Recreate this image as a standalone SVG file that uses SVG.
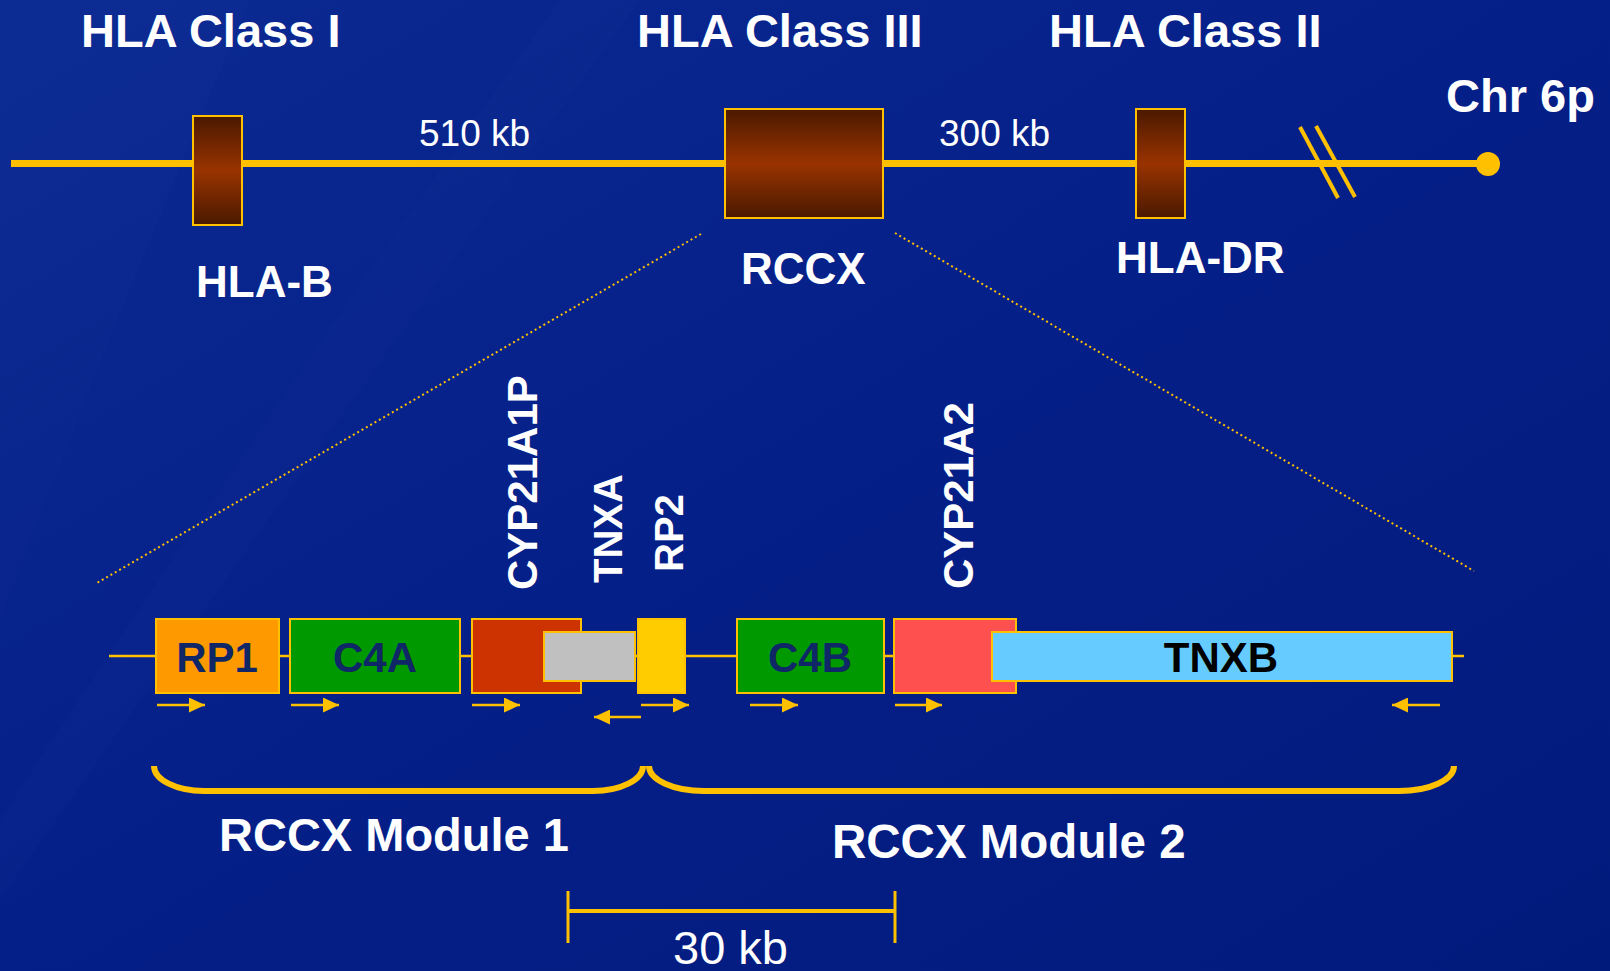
<svg xmlns="http://www.w3.org/2000/svg" width="1610" height="971" viewBox="0 0 1610 971">
<defs>
<linearGradient id="bg" x1="0" y1="0" x2="1" y2="1">
<stop offset="0" stop-color="#0b2a92"/>
<stop offset="0.5" stop-color="#051f88"/>
<stop offset="1" stop-color="#001a7c"/>
</linearGradient>
<linearGradient id="brown" x1="0" y1="0" x2="0" y2="1">
<stop offset="0" stop-color="#4a1900"/>
<stop offset="0.5" stop-color="#993300"/>
<stop offset="1" stop-color="#4a1900"/>
</linearGradient>
<marker id="ah" markerUnits="userSpaceOnUse" markerWidth="16" markerHeight="15" refX="16" refY="7.5" orient="auto"><path d="M0,0 L16,7.5 L0,15 Z" fill="#ffc000"/></marker>
<style>
.t{font-family:"Liberation Sans",Arial,sans-serif;font-weight:bold;fill:#ffffff}
.r{font-family:"Liberation Sans",Arial,sans-serif;fill:#ffffff}
.g{font-family:"Liberation Sans",Arial,sans-serif;font-weight:bold;fill:#0f2766;text-anchor:middle;font-size:42px}
.box{stroke:#ffc000;stroke-width:2}
.hb{fill:url(#brown);stroke:#ffc000;stroke-width:2}
.gold{stroke:#ffc000;fill:none}
.arr{stroke:#ffc000;stroke-width:2.5;marker-end:url(#ah)}
.dot{stroke:#ffc000;stroke-width:2;stroke-dasharray:2 3;fill:none}
</style>
</defs>
<rect width="1610" height="971" fill="url(#bg)"/>
<path d="M0,0 L250,0 Q110,330 0,620 Z" fill="#ffffff" opacity="0.012"/>
<path d="M0,820 Q260,420 560,0 L640,0 Q330,430 0,900 Z" fill="#ffffff" opacity="0.012"/>

<g id="titles">
<text class="t" x="81" y="47" font-size="47">HLA Class I</text>
<text class="t" x="637" y="47" font-size="47">HLA Class III</text>
<text class="t" x="1049" y="47" font-size="47">HLA Class II</text>
<text class="t" x="1446" y="112" font-size="47">Chr 6p</text>
</g>

<g id="connectors">
<line class="gold" x1="11" y1="163.5" x2="1488" y2="163.5" stroke-width="7"/>
<circle cx="1488" cy="164" r="12" fill="#ffc000"/>
<line class="gold" x1="1300" y1="127" x2="1338" y2="198" stroke-width="4"/>
<line class="gold" x1="1316" y1="126" x2="1355" y2="197" stroke-width="4"/>
<line class="dot" x1="701" y1="234" x2="97" y2="583"/>
<line class="dot" x1="895" y1="233" x2="1474" y2="571"/>
<line class="gold" x1="109" y1="656" x2="1464" y2="656" stroke-width="2.5"/>
<line class="arr" x1="157" y1="705" x2="205" y2="705"/>
<line class="arr" x1="291" y1="705" x2="339" y2="705"/>
<line class="arr" x1="472" y1="705" x2="520" y2="705"/>
<line class="arr" x1="641" y1="717" x2="594" y2="717"/>
<line class="arr" x1="641" y1="705" x2="689" y2="705"/>
<line class="arr" x1="750" y1="705" x2="798" y2="705"/>
<line class="arr" x1="895" y1="705" x2="942" y2="705"/>
<line class="arr" x1="1440" y1="705" x2="1392" y2="705"/>
</g>

<g id="hla-b">
<rect class="hb" x="193" y="116" width="49" height="109"/>
<text class="t" x="196" y="297" font-size="44">HLA-B</text>
</g>
<g id="rccx">
<rect class="hb" x="725" y="109" width="158" height="109"/>
<text class="t" x="741" y="284" font-size="44">RCCX</text>
</g>
<g id="hla-dr">
<rect class="hb" x="1136" y="109" width="49" height="109"/>
<text class="t" x="1116" y="273" font-size="44">HLA-DR</text>
</g>
<g id="dist">
<text class="r" x="419" y="146" font-size="37">510 kb</text>
<text class="r" x="939" y="146" font-size="37">300 kb</text>
</g>

<g id="rp1">
<rect class="box" x="156" y="619" width="123" height="74" fill="#ff9900"/>
<text class="g" x="217" y="672">RP1</text>
</g>
<g id="c4a">
<rect class="box" x="290" y="619" width="170" height="74" fill="#009900"/>
<text class="g" x="375" y="672">C4A</text>
</g>
<g id="cyp21a1p">
<rect class="box" x="472" y="619" width="109" height="74" fill="#cc3300"/>
<text class="t" font-size="42" transform="translate(537,590) rotate(-90)">CYP21A1P</text>
</g>
<g id="tnxa">
<rect class="box" x="544" y="632" width="91" height="49" fill="#c0c0c0"/>
<text class="t" font-size="40" transform="translate(622,583) rotate(-90)">TNXA</text>
</g>
<g id="rp2">
<rect class="box" x="638" y="619" width="47" height="74" fill="#ffcc00"/>
<text class="t" font-size="40" transform="translate(683,572) rotate(-90)">RP2</text>
</g>
<g id="c4b">
<rect class="box" x="737" y="619" width="147" height="74" fill="#009900"/>
<text class="g" x="810" y="672">C4B</text>
</g>
<g id="cyp21a2">
<rect class="box" x="894" y="619" width="122" height="74" fill="#ff5050"/>
<text class="t" font-size="42" transform="translate(973,589) rotate(-90)">CYP21A2</text>
</g>
<g id="tnxb">
<rect class="box" x="992" y="632" width="460" height="49" fill="#66ccff"/>
<text class="g" x="1221" y="672" style="fill:#000000">TNXB</text>
</g>

<g id="module1">
<path class="gold" stroke-width="6" d="M154,766 A50,25 0 0 0 204,791 L593,791 A50,25 0 0 0 643,766"/>
<text class="t" x="219" y="851" font-size="47">RCCX Module 1</text>
</g>
<g id="module2">
<path class="gold" stroke-width="6" d="M649,766 A55,25 0 0 0 704,791 L1399,791 A55,25 0 0 0 1454,766"/>
<text class="t" x="832" y="858" font-size="47.5">RCCX Module 2</text>
</g>
<g id="scale">
<line class="gold" x1="568" y1="911" x2="895" y2="911" stroke-width="4"/>
<line class="gold" x1="568" y1="891" x2="568" y2="943" stroke-width="3"/>
<line class="gold" x1="895" y1="891" x2="895" y2="943" stroke-width="3"/>
<text class="r" x="673" y="964" font-size="47">30 kb</text>
</g>
</svg>
